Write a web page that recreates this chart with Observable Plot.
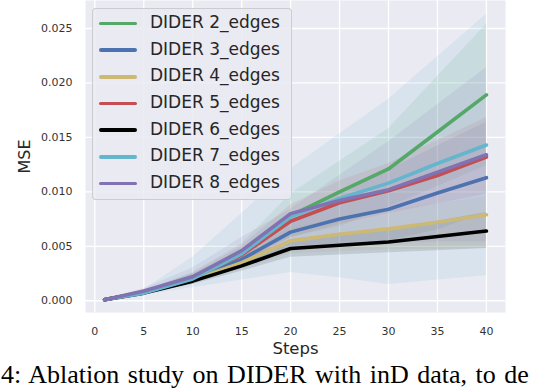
<!DOCTYPE html>
<html>
<head>
<meta charset="utf-8">
<script src="https://cdn.jsdelivr.net/npm/d3@7"></script>
<script src="https://cdn.jsdelivr.net/npm/@observablehq/plot@0.6"></script>
<style>
  html, body { margin: 0; padding: 0; background: #fff; }
  #wrap { position: relative; width: 536px; height: 388px; overflow: hidden; font-family: "DejaVu Sans", sans-serif; }
  #legend { position: absolute; left: 92px; top: 8px; width: 200px; height: 192px; box-sizing: border-box;
            background: rgba(234,234,242,0.85); border: 1px solid rgba(200,200,205,0.9); border-radius: 4px; }
  .row { position: absolute; left: 0; height: 26px; width: 100%; }
  .sw { position: absolute; left: 6px; width: 38px; height: 3.8px; border-radius: 2px; }
  .lb { position: absolute; left: 57px; font-size: 17px; color: #262626; white-space: nowrap; }
  #caption { position: absolute; left: 1px; top: 362px; font-family: "Liberation Serif", serif; font-size: 26px; line-height: 26px; word-spacing: 2px; color: #000; white-space: nowrap; }
</style>
</head>
<body>
<div id="wrap"><div id="chart"></div><div id="legend"></div><div id="caption">4: Ablation study on DIDER with inD data, to de</div></div>
<script>
const steps = [1, 5, 10, 15, 20, 25, 30, 35, 40];
const seriesNames = ["DIDER 2_edges", "DIDER 3_edges", "DIDER 4_edges", "DIDER 5_edges", "DIDER 6_edges", "DIDER 7_edges", "DIDER 8_edges"];
const seriesColors = ["#55A868", "#4C72B0", "#CCB974", "#C44E52", "#000000", "#64B5CD", "#8172B2"];
const xTicks = [0, 5, 10, 15, 20, 25, 30, 35, 40];
const yTicks = [0, 0.005, 0.01, 0.015, 0.02, 0.025];

// mean MSE per series
const mean2 = [0.0001, 0.0008, 0.0022, 0.0044, 0.0078, 0.0100, 0.0121, 0.0155, 0.0189];
const mean3 = [0.0001, 0.0008, 0.0020, 0.0038, 0.0063, 0.0075, 0.0084, 0.0099, 0.0113];
const mean4 = [0.0001, 0.0008, 0.0019, 0.0035, 0.0055, 0.0061, 0.0066, 0.0072, 0.0079];
const mean5 = [0.0001, 0.0008, 0.0021, 0.0042, 0.0073, 0.0090, 0.0101, 0.0115, 0.0132];
const mean6 = [0.0001, 0.0007, 0.0018, 0.0032, 0.0048, 0.0051, 0.0054, 0.0059, 0.0064];
const mean7 = [0.0001, 0.0007, 0.0020, 0.0043, 0.0077, 0.0094, 0.0108, 0.0126, 0.0143];
const mean8 = [0.0001, 0.0009, 0.0022, 0.0046, 0.0080, 0.0092, 0.0102, 0.0118, 0.0134];
// lower band
const low2 = [0.0001, 0.0007, 0.0018, 0.0036, 0.0058, 0.0068, 0.0086, 0.0105, 0.0124];
const low3 = [0.0001, 0.0007, 0.0016, 0.0030, 0.0045, 0.0050, 0.0055, 0.0065, 0.0081];
const low4 = [0.0001, 0.0007, 0.0016, 0.0029, 0.0043, 0.0045, 0.0047, 0.0047, 0.0048];
const low5 = [0.0001, 0.0007, 0.0017, 0.0034, 0.0058, 0.0070, 0.0080, 0.0089, 0.0098];
const low6 = [0.0001, 0.0006, 0.0015, 0.0027, 0.0040, 0.0042, 0.0044, 0.0046, 0.0048];
const low7 = [0.0001, 0.0005, 0.0012, 0.0019, 0.0026, 0.0021, 0.0015, 0.0019, 0.0023];
const low8 = [0.0001, 0.0007, 0.0016, 0.0030, 0.0050, 0.0052, 0.0053, 0.0054, 0.0054];
// upper band
const high2 = [0.0001, 0.0009, 0.0026, 0.0052, 0.0098, 0.0128, 0.0158, 0.0206, 0.0254];
const high3 = [0.0001, 0.0009, 0.0024, 0.0046, 0.0080, 0.0100, 0.0120, 0.0142, 0.0164];
const high4 = [0.0001, 0.0009, 0.0022, 0.0041, 0.0067, 0.0075, 0.0083, 0.0089, 0.0095];
const high5 = [0.0001, 0.0009, 0.0025, 0.0050, 0.0088, 0.0110, 0.0126, 0.0147, 0.0168];
const high6 = [0.0001, 0.0008, 0.0021, 0.0037, 0.0056, 0.0062, 0.0066, 0.0073, 0.0081];
const high7 = [0.0001, 0.0010, 0.0040, 0.0080, 0.0121, 0.0153, 0.0185, 0.0224, 0.0263];
const high8 = [0.0001, 0.0011, 0.0030, 0.0058, 0.0084, 0.0115, 0.0146, 0.0180, 0.0214];

const means = [mean2, mean3, mean4, mean5, mean6, mean7, mean8];
const lows = [low2, low3, low4, low5, low6, low7, low8];
const highs = [high2, high3, high4, high5, high6, high7, high8];

const rows = [];
seriesNames.forEach((s, i) => steps.forEach((st, j) => rows.push({series: s, step: st, mean: means[i][j], lo: lows[i][j], hi: highs[i][j]})));

const chart = Plot.plot({
  width: 536,
  height: 360,
  marginLeft: 85,
  marginRight: 31,
  marginTop: 0,
  marginBottom: 48,
  style: {fontFamily: "DejaVu Sans, sans-serif", color: "#333", background: "transparent"},
  x: {domain: [-0.95, 41.95]},
  y: {domain: [-0.00108, 0.02757]},
  color: {domain: seriesNames, range: seriesColors},
  marks: [
    Plot.frame({fill: "#EAEAF2", stroke: null}),
    Plot.gridX({ticks: xTicks, stroke: "#fff", strokeOpacity: 1, strokeWidth: 1.3}),
    Plot.gridY({ticks: yTicks, stroke: "#fff", strokeOpacity: 1, strokeWidth: 1.3}),
    Plot.areaY(rows, {x: "step", y1: "lo", y2: "hi", z: "series", fill: "series", fillOpacity: 0.12}),
    Plot.lineY(rows, {x: "step", y: "mean", z: "series", stroke: "series", strokeWidth: 3.6}),
    Plot.axisX({ticks: xTicks, tickSize: 0, tickPadding: 15, fontSize: 11, label: null}),
    Plot.axisX({ticks: [], tickSize: 0, label: "Steps", labelAnchor: "center", labelArrow: false, labelOffset: 41, fontSize: 16.5, fill: "#262626"}),
    Plot.axisY({ticks: yTicks, tickSize: 0, tickPadding: 13, fontSize: 11, tickFormat: d3.format(".3f"), label: null}),
    Plot.axisY({ticks: [], tickSize: 0, label: "MSE", labelAnchor: "center", labelArrow: false, labelOffset: 67, fontSize: 16, fill: "#262626"})
  ]
});
document.getElementById("chart").appendChild(chart);

const legend = document.getElementById("legend");
seriesNames.forEach((name, i) => {
  const row = document.createElement("div");
  row.className = "row";
  row.style.top = (1 + i * 26.67) + "px";
  const sw = document.createElement("div");
  sw.className = "sw";
  sw.style.background = seriesColors[i];
  sw.style.top = "11.5px";
  const lb = document.createElement("div");
  lb.className = "lb";
  lb.style.top = "2px";
  lb.textContent = name;
  row.appendChild(sw);
  row.appendChild(lb);
  legend.appendChild(row);
});
</script>
</body>
</html>
